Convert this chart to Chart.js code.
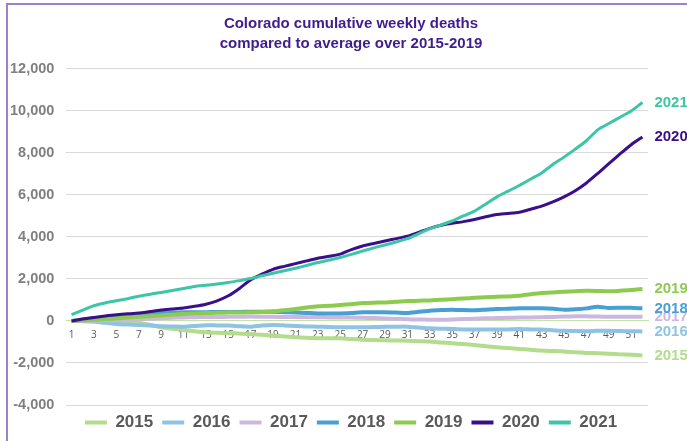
<!DOCTYPE html>
<html>
<head>
<meta charset="utf-8">
<script src="https://cdn.jsdelivr.net/npm/chart.js@4/dist/chart.umd.min.js"></script>
<style>
  html, body { margin: 0; padding: 0; background: #fff; }
  #wrap { position: relative; width: 687px; height: 441px; overflow: hidden; }
  #frame { position: absolute; left: 6px; top: 3px; width: 720px; height: 480px;
           border: 2px solid #9B83CC; pointer-events: none; }
</style>
</head>
<body>
<div id="wrap">
  <canvas id="chart" width="687" height="441"></canvas>
  <div id="frame"></div>
</div>
<script>
// weeks 1..52
var weeks = [];
for (var i = 1; i <= 52; i++) weeks.push(String(i));

var years = ["2015", "2016", "2017", "2018", "2019", "2020", "2021"];

var y2015 = [0, 0, -10, -20, -30, -50, -80, -180, -300, -370, -430, -490, -540, -560, -580, -600, -620, -660, -700, -740,
  -770, -800, -820, -820, -820, -860, -890, -910, -920, -930, -940, -960, -980, -1020, -1060, -1100, -1140, -1200, -1250, -1290,
  -1330, -1370, -1410, -1430, -1450, -1490, -1520, -1540, -1560, -1590, -1610, -1640];
var y2016 = [0, -10, -30, -90, -140, -170, -190, -220, -250, -260, -270, -240, -200, -210, -220, -250, -270, -220, -190, -210,
  -240, -260, -270, -290, -300, -300, -300, -290, -270, -270, -270, -310, -350, -370, -380, -400, -410, -410, -410, -400,
  -380, -400, -410, -440, -470, -480, -490, -470, -460, -480, -490, -500];
var y2017 = [0, 10, 20, 30, 40, 60, 80, 100, 130, 150, 170, 180, 190, 190, 200, 200, 210, 200, 200, 190,
  190, 180, 180, 170, 170, 160, 150, 140, 120, 100, 80, 70, 60, 60, 70, 90, 110, 130, 140, 150,
  160, 170, 180, 190, 210, 220, 220, 210, 200, 200, 200, 200];
var y2018 = [0, 70, 130, 180, 220, 270, 320, 350, 380, 400, 410, 420, 420, 430, 430, 430, 440, 440, 440, 420,
  400, 380, 360, 360, 360, 380, 410, 410, 410, 400, 380, 440, 490, 520, 540, 520, 510, 540, 570, 580,
  600, 600, 600, 580, 540, 560, 600, 680, 620, 630, 630, 600];
var y2019 = [0, 30, 60, 90, 120, 160, 200, 230, 260, 300, 330, 360, 380, 390, 400, 400, 410, 430, 460, 510,
  570, 640, 700, 720, 760, 800, 850, 870, 880, 910, 950, 960, 980, 1010, 1040, 1070, 1100, 1130, 1150, 1170,
  1200, 1270, 1330, 1360, 1390, 1420, 1440, 1430, 1410, 1440, 1470, 1520];
var y2020 = [0, 90, 170, 240, 300, 340, 380, 450, 520, 570, 620, 700, 800, 960, 1200, 1550, 1960, 2230, 2460, 2600,
  2730, 2860, 2990, 3080, 3180, 3400, 3570, 3690, 3810, 3920, 4040, 4220, 4410, 4560, 4650, 4730, 4830, 4960, 5070, 5120,
  5180, 5320, 5470, 5670, 5910, 6200, 6570, 7020, 7490, 7950, 8390, 8760];
var y2021 = [300, 520, 730, 860, 960, 1060, 1180, 1270, 1360, 1450, 1550, 1640, 1700, 1760, 1830, 1920, 2020, 2150, 2270, 2390,
  2510, 2640, 2780, 2900, 3020, 3170, 3330, 3480, 3620, 3760, 3920, 4150, 4390, 4570, 4760, 5000, 5230, 5570, 5910, 6180,
  6450, 6750, 7050, 7450, 7800, 8180, 8580, 9100, 9400, 9700, 10000, 10400];

var series = [y2015, y2016, y2017, y2018, y2019, y2020, y2021];
var colors = ["#B3DC8C", "#8EC3E3", "#CCB8DF", "#489FD2", "#8DCB4F", "#3A0F8A", "#3DC5A7"];
var widths = [4, 4, 4, 4, 4, 3, 3];

var datasets = years.map(function(y, i) {
  return {
    label: y,
    data: series[i],
    borderColor: colors[i],
    backgroundColor: colors[i],
    borderWidth: widths[i],
    pointRadius: 0,
    tension: 0.2,
    fill: false,
    order: years.length - i
  };
});

// year labels at the end of each line
var endLabels = {
  id: 'endLabels',
  afterDatasetsDraw: function(chart) {
    var ctx = chart.ctx;
    ctx.save();
    ctx.font = 'bold 15px "Liberation Sans", Arial, sans-serif';
    ctx.textBaseline = 'middle';
    ctx.textAlign = 'left';
    chart.data.datasets.forEach(function(ds, i) {
      var meta = chart.getDatasetMeta(i);
      var pt = meta.data[meta.data.length - 1];
      ctx.fillStyle = ds.borderColor;
      ctx.fillText(ds.label, pt.x + 12, pt.y);
    });
    ctx.restore();
  }
};

var ctx = document.getElementById("chart").getContext("2d");
var chart = new Chart(ctx, {
  type: 'line',
  data: { labels: weeks, datasets: datasets },
  plugins: [endLabels],
  options: {
    responsive: false,
    animation: false,
    events: [],
    layout: { padding: { left: 54, right: 39, top: 14, bottom: 0 } },
    plugins: {
      tooltip: { enabled: false },
      title: {
        display: true,
        text: ["Colorado cumulative weekly deaths", "compared to average over 2015-2019"],
        color: "#3F1D8C",
        font: { family: '"Liberation Sans", Arial, sans-serif', size: 15, weight: 'bold', lineHeight: 1.33 },
        padding: { top: 0, bottom: 15 }
      },
      legend: {
        position: 'bottom',
        labels: {
          boxWidth: 22,
          boxHeight: 4,
          padding: 9,
          color: "#595959",
          font: { family: '"Liberation Sans", Arial, sans-serif', size: 17, weight: 'bold' },
          sort: function(a, b) { return a.datasetIndex - b.datasetIndex; },
          generateLabels: function(chart) {
            return Chart.defaults.plugins.legend.labels.generateLabels(chart).map(function(l) {
              l.lineWidth = 0;
              return l;
            });
          }
        }
      }
    },
    scales: {
      x: {
        position: { y: 0 },
        offset: true,
        grid: { display: false, drawTicks: false },
        border: { display: true, color: "#C6E2A9", width: 1 },
        ticks: {
          autoSkip: false,
          maxRotation: 0,
          padding: 8,
          color: "#595959",
          font: { family: '"Open Sans", sans-serif', size: 10 },
          callback: function(v, idx) { return idx % 2 === 0 ? this.getLabelForValue(v) : ''; }
        },
        afterFit: function(scale) { scale.height = 0; }
      },
      y: {
        min: -4000,
        max: 12000,
        grid: {
          color: function(c) { return c.tick && c.tick.value === 0 ? "#C6E2A9" : "#D9D9D9"; },
          drawTicks: false
        },
        border: { display: false },
        ticks: {
          stepSize: 2000,
          mirror: true,
          crossAlign: 'far',
          padding: -56,
          color: "#7F7F7F",
          font: { family: '"Liberation Sans", Arial, sans-serif', size: 14.5, weight: 'bold' },
          callback: function(v) { return v.toLocaleString('en-US'); }
        },
        afterFit: function(scale) { scale.width = 12; }
      }
    }
  }
});
</script>
</body>
</html>
